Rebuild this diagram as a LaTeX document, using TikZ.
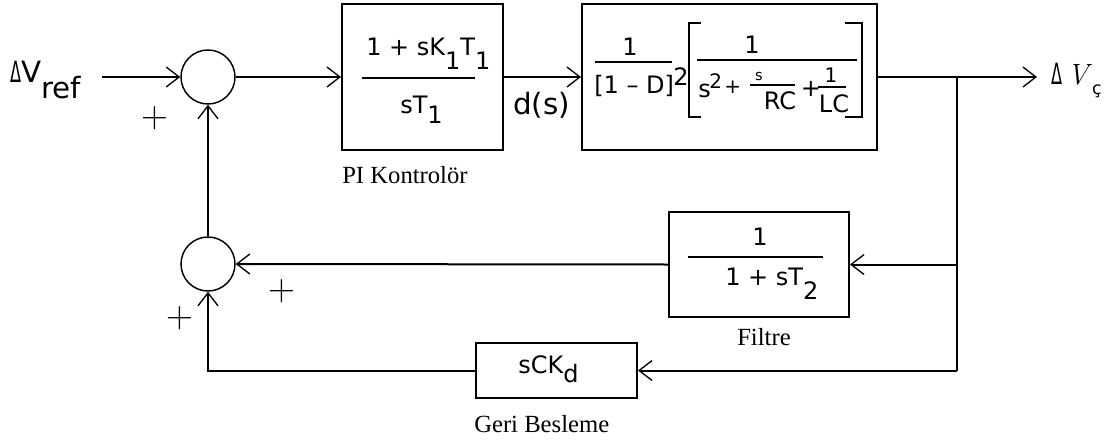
\documentclass[tikz,border=0pt]{standalone}
\usepackage{fontspec}
\usepackage{graphicx}
\usetikzlibrary{fit,arrows.meta}
\newfontfamily\dv{DejaVu Sans}
\newfontfamily\tms{Liberation Serif}
\newcommand\lo[2]{\raisebox{-#1}{#2}}
\tikzset{
  ln/.style={line width=1.5pt},
  arr/.style={line width=1.5pt, -{Straight Barb[length=9.75pt, width=15pt, line width=1pt]}},
  blk/.style={draw, line width=1.5pt, inner sep=0pt},
  sumc/.style={circle, draw, line width=1.1pt, minimum size=40.5pt, inner sep=0pt},
  eq/.style={inner sep=0pt, font=\dv\fontsize{18}{20}\selectfont},
  eqm/.style={inner sep=0pt, font=\dv\fontsize{15}{16}\selectfont},
  eqs/.style={inner sep=0pt, font=\dv\fontsize{11}{12}\selectfont},
  lbl/.style={inner sep=0pt, anchor=base west, font=\tms\fontsize{18.5}{20}\selectfont},
  pls/.style={inner sep=0pt, font=\fontsize{28}{28}\selectfont},
  fbar/.style={line width=1.5pt},
  fbars/.style={line width=1.1pt},
}
\begin{document}
\begin{tikzpicture}[x=0.75pt, y=-0.75pt]
\useasboundingbox (0,0) rectangle (1117,443);
% summing junctions
\node[sumc] (s1) at (208,77) {};
\node[sumc] (s2) at (208,264) {};
% blocks
\node[blk, fit={(342,4) (503,150)}] (pi) {};
\node[blk, fit={(582,4) (877,150)}] (pl) {};
\node[blk, fit={(669,212) (849,317)}] (fl) {};
\node[blk, fit={(476,343) (637,398)}] (fb) {};
% coordinates
\coordinate (in) at (102,77);
\coordinate (out) at (1037,77);
\coordinate (br) at (957,77);
\coordinate (brf) at (957,264.5);
\coordinate (brb) at (957,370.5);
\coordinate (cb) at (208,370.5);
% connectors
\draw[arr] (in) -- (s1.west);
\draw[arr] (s1.east) -- (pi.west);
\draw[arr] (pi.east) -- (pl.west);
\draw[arr] (pl.east) -- (out);
\draw[ln] (br) -- (brb);
\draw[arr] (brf) -- (fl.east);
\draw[arr] (brb) -- (fb.east);
\draw[arr] (fl.west) -- (s2.east);
\draw[arr] (fb.west) -- (cb) -- (s2.south);
\draw[arr] (s2.north) -- (s1.south);
% input / output labels
\node[inner sep=0pt, anchor=base west, font=\dv\fontsize{22}{24}\selectfont] (vref) at (10,82) {\scalebox{0.55}[1]{Δ}V\lo{12pt}{ref}};
\node[inner sep=0pt, anchor=base west, font=\fontsize{22}{24}\selectfont] (vc) at (1051,84) {{\dv\scalebox{0.55}[1]{Δ}}\,\textit{V}\lo{8pt}{\dv\fontsize{13}{14}\selectfont ç}};
% plus signs
\node[pls] (p1) at (155,118) {+};
\node[pls] (p2) at (282,291) {+};
\node[pls] (p3) at (180,318) {+};
% PI block
\node[eq, anchor=base west] (pin) at (366,55) {1 + sK\lo{11pt}{1}T\lo{11pt}{1}};
\draw[fbar] (362,78) -- (475,78);
\node[eq, anchor=base west] (pid) at (400,113) {sT\lo{7.5pt}{1}};
\node[lbl] (pilbl) at (342,183) {PI Kontrolör};
% d(s)
\node[inner sep=0pt, anchor=base west, font=\dv\fontsize{22}{24}\selectfont] (ds) at (513,114) {d(s)};
% plant block
\node[eq, anchor=base] (pn1) at (630,55) {1};
\draw[fbar] (595,62) -- (672,62);
\node[eq, anchor=base west] (pd1) at (594,93) {[1 – D]};
\node[eq, anchor=base west] (psq) at (673,85) {2};
\draw[fbar] (701,23) -- (689,23) -- (689,117) -- (701,117);
\draw[fbar] (845,23) -- (862,23) -- (862,117) -- (845,117);
\node[eq, anchor=base] (pn2) at (752,53) {1};
\draw[fbar] (697,60) -- (857,60);
\node[eq, anchor=base west] (ps) at (698,97) {s};
\node[eqm, anchor=base west] (ps2) at (709,88) {2};
\node[eqm, anchor=base west] (pp1) at (724,93) {+};
\node[eqs, anchor=base] (prs) at (759,80) {s};
\draw[fbars] (750,85) -- (795,85);
\node[eq, anchor=base] (prc) at (780,109) {RC};
\node[eq, anchor=base] (pp2) at (811,96) {+};
\node[inner sep=0pt, anchor=base, font=\dv\fontsize{15}{16}\selectfont] (pl1) at (831,82) {1};
\draw[fbars] (818,87) -- (846,87);
\node[eq, anchor=base] (plc) at (834,112) {LC};
% filter block
\node[eq, anchor=base] (fn) at (760,245) {1};
\draw[fbar] (688,257) -- (823,257);
\node[eq, anchor=base west] (fd) at (725,285) {1 + sT\lo{11pt}{2}};
\node[lbl] (fllbl) at (737,345) {Filtre};
% feedback block
\node[eq, anchor=base west] (fbt) at (518,373) {sCK\lo{6.75pt}{d}};
\node[lbl] (fblbl) at (474,432) {Geri Besleme};
\end{tikzpicture}
\end{document}
